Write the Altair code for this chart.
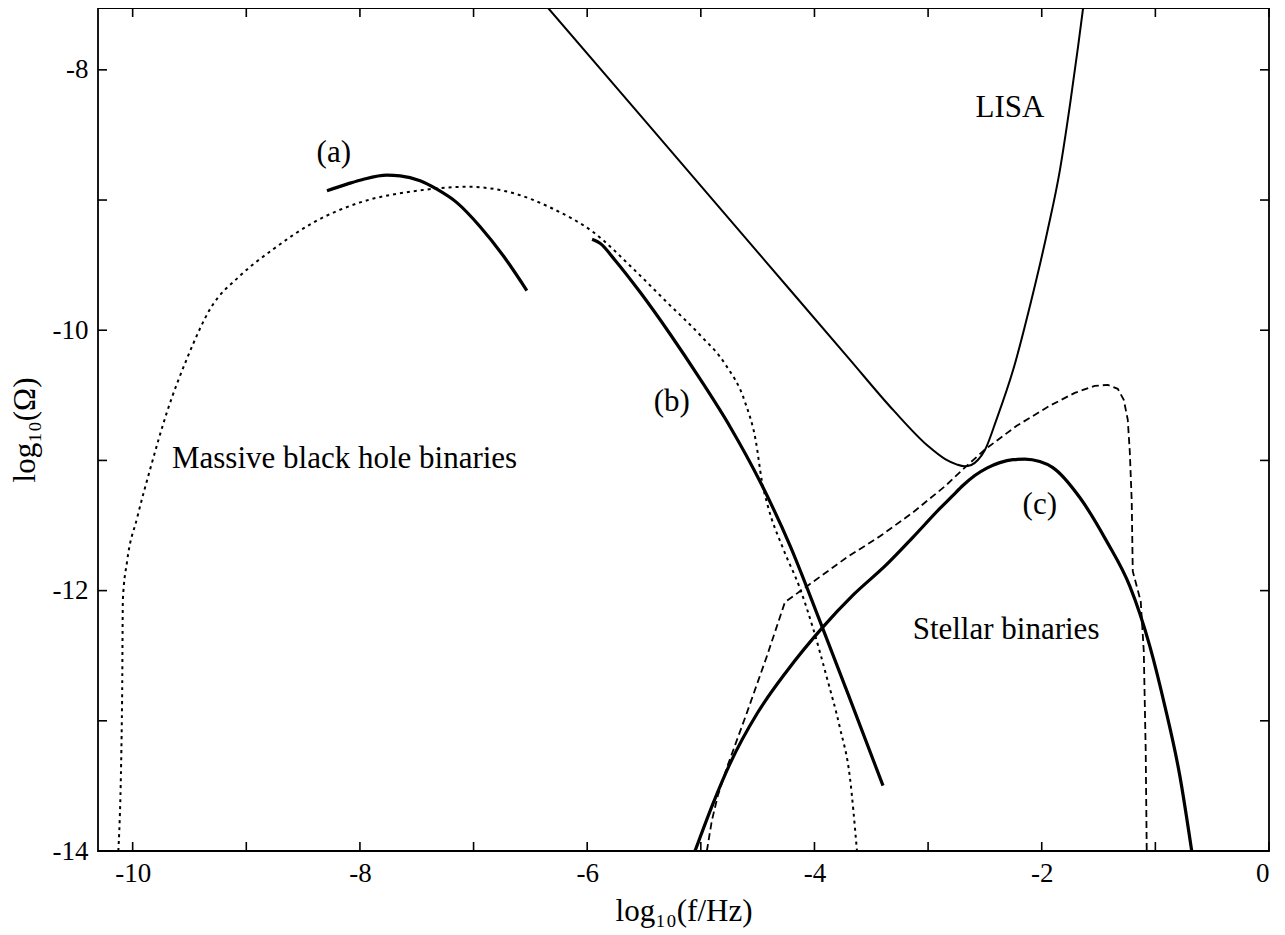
import altair as alt
import pandas as pd

# ---------------- data ----------------
X_DOMAIN = [-10.305, 0.0]
Y_DOMAIN = [-14.0, -7.525]

X_TICKS = [-10, -9, -8, -7, -6, -5, -4, -3, -2, -1, 0]
Y_TICKS = [-14, -13, -12, -11, -10, -9, -8]
X_LABELS = [-10, -8, -6, -4, -2, 0]
Y_LABELS = [-14, -12, -10, -8]

LISA_X = [-6.344, -5.5, -4.5, -3.7, -3.3, -3.0, -2.85, -2.75, -2.68, -2.62, -2.56,
          -2.5, -2.4, -2.25, -2.1, -1.95, -1.84, -1.75, -1.68, -1.636]
LISA_Y = [-7.525, -8.383, -9.400, -10.214, -10.62, -10.89, -10.99, -11.03, -11.045,
          -11.035, -10.995, -10.92, -10.69, -10.30, -9.80, -9.24, -8.77, -8.26, -7.82, -7.525]

A_X = [-8.29, -8.114, -7.968, -7.763, -7.646, -7.470, -7.323, -7.147, -6.942, -6.737, -6.531]
A_Y = [-8.929, -8.878, -8.840, -8.809, -8.814, -8.852, -8.917, -9.020, -9.205, -9.430, -9.695]

B_X = [-5.957, -5.887, -5.755, -5.535, -5.271, -5.007, -4.743, -4.479, -4.216, -3.952,
       -3.688, -3.397]
B_Y = [-9.302, -9.332, -9.462, -9.707, -10.029, -10.374, -10.741, -11.162, -11.652,
       -12.234, -12.832, -13.498]

C_X = [-5.051, -4.893, -4.743, -4.506, -4.242, -3.934, -3.661, -3.362, -3.134, -2.896,
       -2.790, -2.694, -2.589, -2.483, -2.369, -2.254, -2.149, -2.017, -1.902, -1.665,
       -1.428, -1.225, -1.049, -0.917, -0.785, -0.680]
C_Y = [-14.0, -13.636, -13.329, -12.946, -12.617, -12.288, -12.035, -11.797, -11.591,
       -11.369, -11.277, -11.193, -11.116, -11.059, -11.017, -10.994, -10.990, -11.009,
       -11.055, -11.285, -11.622, -11.966, -12.426, -12.885, -13.421, -14.0]

MBH_X = [-10.126, -10.093, -10.086, -10.049, -9.961, -9.844, -9.697, -9.522, -9.317,
         -9.053, -8.760, -8.408, -7.997, -7.499, -7.059, -6.619, -6.326, -5.945, -5.594,
         -5.300, -5.007, -4.787, -4.612, -4.515, -4.462, -4.409, -4.277, -4.128, -4.013,
         -3.890, -3.776, -3.688, -3.626]
MBH_Y = [-14.0, -12.847, -12.066, -11.775, -11.443, -11.061, -10.626, -10.218, -9.835,
         -9.580, -9.376, -9.172, -9.018, -8.929, -8.898, -8.955, -9.057, -9.248, -9.529,
         -9.784, -10.037, -10.259, -10.550, -10.856, -11.162, -11.354, -11.675, -11.982,
         -12.288, -12.671, -13.054, -13.436, -14.0]

STELLAR_X = [-4.947, -4.903, -4.850, -4.771, -4.595, -4.418, -4.260, -3.714, -3.424,
             -3.134, -2.844, -2.677, -2.501, -2.220, -1.929, -1.709, -1.533, -1.419,
             -1.331, -1.278, -1.243, -1.225, -1.208, -1.199, -1.164, -1.129, -1.102,
             -1.085, -1.076]
STELLAR_Y = [-14.0, -13.766, -13.574, -13.360, -12.939, -12.502, -12.089, -11.744,
             -11.583, -11.400, -11.193, -11.055, -10.917, -10.734, -10.580, -10.481,
             -10.427, -10.420, -10.450, -10.534, -10.687, -10.933, -11.315, -11.851,
             -11.966, -12.081, -12.464, -13.230, -14.0]

LABEL_TEXT = ["(a)", "(b)", "(c)", "LISA", "Massive black hole binaries", "Stellar binaries"]
LABEL_X = [-8.23, -5.255, -2.017, -2.28, -8.135, -2.314]
LABEL_Y = [-8.64, -10.55, -11.34, -8.29, -10.99, -12.30]

# ---------------- chart ----------------
FONT = "Liberation Serif"
W, H = 1171, 843

xs = alt.Scale(domain=X_DOMAIN, nice=False, zero=False)
ys = alt.Scale(domain=Y_DOMAIN, nice=False, zero=False)

XA = alt.Axis(values=X_LABELS, title="log₁₀(f/Hz)", tickSize=0, domain=False,
              grid=False, labelPadding=9, labelExpr="'' + datum.value",
              titleY=60, titleBaseline="middle")
YA = alt.Axis(values=Y_LABELS, title="log₁₀(Ω)", tickSize=0, domain=False,
              grid=False, labelPadding=10, labelExpr="'' + datum.value",
              titleX=-73, titleBaseline="middle")


def X(field):
    return alt.X(field, scale=xs, axis=XA)


def Y(field):
    return alt.Y(field, scale=ys, axis=YA)


def curve(xv, yv):
    return pd.DataFrame({"x": xv, "y": yv, "i": list(range(len(xv)))})


def line_layer(df, width, dash=None, interp="monotone"):
    kw = dict(color="black", strokeWidth=width, interpolate=interp, clip=True)
    if dash:
        kw["strokeDash"] = dash
    return alt.Chart(df).mark_line(**kw).encode(
        x=X("x:Q"), y=Y("y:Q"), order="i:Q"
    )


mbh = line_layer(curve(MBH_X, MBH_Y), 2, dash=[3, 4], interp="monotone")
stellar = line_layer(curve(STELLAR_X, STELLAR_Y), 1.8, dash=[7, 4], interp="linear")
lisa = line_layer(curve(LISA_X, LISA_Y), 2)
ca = line_layer(curve(A_X, A_Y), 3.2)
cb = line_layer(curve(B_X, B_Y), 3.2)
cc = line_layer(curve(C_X, C_Y), 3.2)

xt = pd.DataFrame({"v": X_TICKS})
yt = pd.DataFrame({"v": Y_TICKS})
TL = 9
xtick_bot = alt.Chart(xt).mark_rule(color="black", strokeWidth=1.6).encode(
    x=X("v:Q"), y=alt.value(H), y2=alt.value(H - TL))
xtick_top = alt.Chart(xt).mark_rule(color="black", strokeWidth=1.6).encode(
    x=X("v:Q"), y=alt.value(0), y2=alt.value(TL))
ytick_l = alt.Chart(yt).mark_rule(color="black", strokeWidth=1.6).encode(
    y=Y("v:Q"), x=alt.value(0), x2=alt.value(TL))
ytick_r = alt.Chart(yt).mark_rule(color="black", strokeWidth=1.6).encode(
    y=Y("v:Q"), x=alt.value(W), x2=alt.value(W - TL))

labels = alt.Chart(pd.DataFrame({"t": LABEL_TEXT, "x": LABEL_X, "y": LABEL_Y})).mark_text(
    font=FONT, fontSize=31, color="black", align="center", baseline="middle"
).encode(
    x=X("x:Q"), y=Y("y:Q"), text="t:N",
)

chart = alt.layer(
    mbh, stellar, lisa, ca, cb, cc, xtick_bot, xtick_top, ytick_l, ytick_r, labels
).properties(
    width=W, height=H,
    autosize=alt.AutoSizeParams(type="none"),
    padding={"left": 90, "top": 0, "right": 8, "bottom": 84},
    background="white",
).configure_view(
    stroke="black", strokeWidth=1.8
).configure_axis(
    labelFont=FONT, titleFont=FONT, labelFontSize=27, titleFontSize=31,
    labelColor="black", titleColor="black", titleFontWeight="normal",
)

chart.save("out.html", embed_options={"renderer": "svg", "actions": False})
